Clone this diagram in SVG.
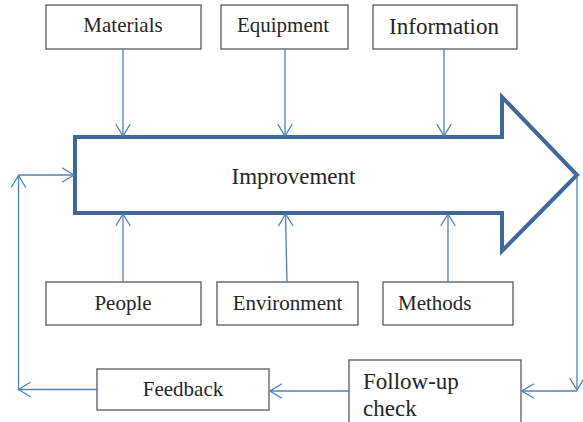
<svg xmlns="http://www.w3.org/2000/svg" width="583" height="422" viewBox="0 0 583 422">
<style>
.box{fill:#fff;stroke:#595959;stroke-width:1.3}
text{font-family:'Times New Roman','Liberation Serif',Tinos,'DejaVu Serif',serif;fill:#262626;font-size:21px}
.c{text-anchor:middle}
.big{font-size:23px}
.arr{fill:none;stroke:#4F81BD;stroke-width:1.3;marker-end:url(#ah)}
</style>
<defs>
<marker id="ah" markerUnits="userSpaceOnUse" viewBox="0 0 14 17" refX="12.5" refY="8.5" markerWidth="14" markerHeight="17" orient="auto">
<path d="M0.5,1.2 L12.5,8.5 L0.5,15.8" fill="none" stroke="#4F81BD" stroke-width="1.3"/>
</marker>
</defs>
<g id="improvement">
<path d="M75,137 H502 V97 L577,175 L502,251 V213 H75 Z" fill="#fff" stroke="#41689A" stroke-width="4" stroke-linejoin="miter"/>
<text class="c big" x="293.5" y="184">Improvement</text>
</g>
<g id="materials"><rect class="box" x="46" y="5" width="155" height="44"/><text class="c" x="123" y="32">Materials</text></g>
<g id="equipment"><rect class="box" x="221" y="5" width="127" height="44"/><text class="c" x="283" y="32">Equipment</text></g>
<g id="information"><rect class="box" x="373" y="5" width="144" height="44"/><text class="c big" x="444" y="34">Information</text></g>
<g id="people"><rect class="box" x="46" y="282" width="155" height="43"/><text class="c" x="123" y="310">People</text></g>
<g id="environment"><rect class="box" x="217" y="282" width="141" height="43"/><text class="c" x="287.5" y="310">Environment</text></g>
<g id="methods"><rect class="box" x="383" y="282" width="130" height="43"/><text x="398" y="310">Methods</text></g>
<g id="feedback"><rect class="box" x="97" y="369" width="172" height="41"/><text class="c" x="183" y="396">Feedback</text></g>
<g id="followup"><rect class="box" x="349" y="360" width="172" height="80"/><text class="big" x="363" y="389">Follow-up</text><text class="big" x="363" y="416">check</text></g>
<g id="connectors">
<path class="arr" d="M123,49 V136"/>
<path class="arr" d="M285,49 V136"/>
<path class="arr" d="M444,49 V136"/>
<path class="arr" d="M123,282 V214"/>
<path class="arr" d="M287,282 L285.5,214"/>
<path class="arr" d="M448,282 V214"/>
<path class="arr" d="M577,176 V390"/>
<path class="arr" d="M577,391 H522"/>
<path class="arr" d="M349,391 H270"/>
<path class="arr" d="M97,389.5 H18.5"/>
<path class="arr" d="M18.5,389.5 V175.5"/>
<path class="arr" d="M18.5,175 H74"/>
</g>
</svg>
